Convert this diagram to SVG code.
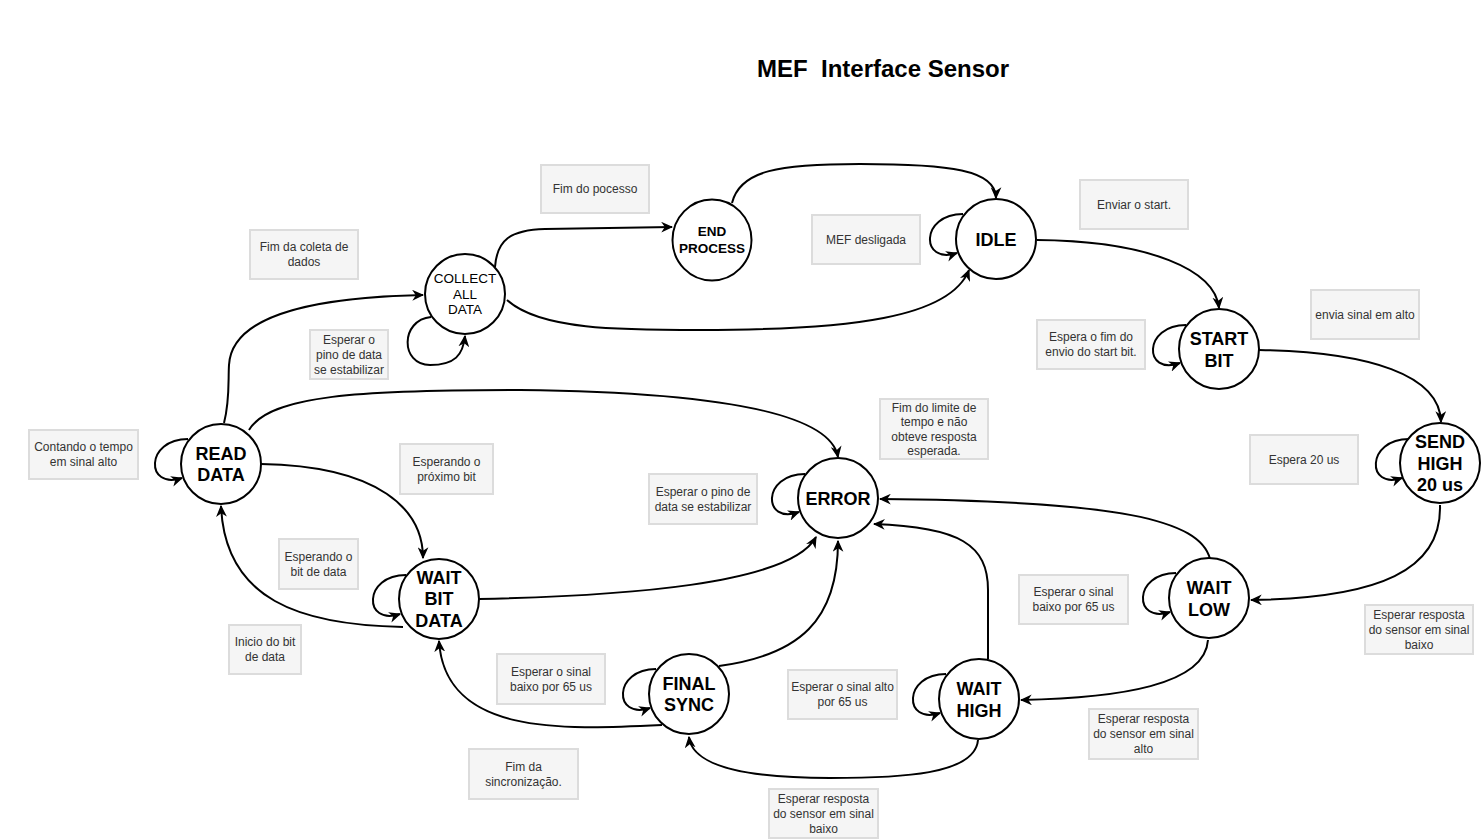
<svg xmlns="http://www.w3.org/2000/svg" width="1483" height="839" viewBox="0 0 1483 839">
<style>
.st{fill:#fff;stroke:#000;stroke-width:2}
.nl{font-family:"Liberation Sans",Arial,sans-serif;font-weight:bold;font-size:18px;fill:#000;text-anchor:middle}
.ns{font-family:"Liberation Sans",Arial,sans-serif;font-weight:bold;font-size:13.5px;fill:#000;text-anchor:middle}
.nr{font-family:"Liberation Sans",Arial,sans-serif;font-size:13.5px;fill:#000;text-anchor:middle}
.bx{fill:#f5f5f5;stroke:#dcdcdc;stroke-width:2}
.bt{font-family:"Liberation Sans",Arial,sans-serif;font-size:12px;fill:#333;text-anchor:middle}
.e{fill:none;stroke:#000;stroke-width:2;marker-end:url(#arr)}
.title{font-family:"Liberation Sans",Arial,sans-serif;font-weight:bold;font-size:24px;fill:#000}
</style>
<defs>
<marker id="arr" viewBox="0 0 10 9" refX="9" refY="4.5" markerWidth="12" markerHeight="11" orient="auto" markerUnits="userSpaceOnUse">
<path d="M0,0 L10,4.5 L0,9 L3,4.5 Z" fill="#000"/>
</marker>
</defs>
<rect width="1483" height="839" fill="#fff"/>
<text class="title" x="757" y="77" xml:space="preserve">MEF  Interface Sensor</text>

<g id="connectors">
<path class="e" d="M732,203 C740,170 780,164 860,164 C950,164 996,170 996,198"/>
<path class="e" d="M495,267 C497,240 510,230 545,229 L672,227"/>
<path class="e" d="M507,300 C540,330 620,330 700,330 C850,330 950,318 969,270"/>
<path class="e" d="M431,317 C400,320 400,365 430,365 C455,365 463,355 465,336"/>
<path class="e" d="M224,423 C230,400 228,380 229,365 C232,310 330,297 423,295"/>
<path class="e" d="M249,430 C270,395 360,390 520,390 C700,392 830,410 838,457"/>
<path class="e" d="M261,464 C380,466 423,510 423,558"/>
<path class="e" d="M403,627 C300,625 225,600 221,506"/>
<path class="e" d="M188,439 C145,439 145,490 182,478"/>
<path class="e" d="M406,575 C363,575 363,626 400,614"/>
<path class="e" d="M479,599 C620,596 790,585 816,537"/>
<path class="e" d="M662,725 C560,730 445,735 439,641"/>
<path class="e" d="M719,666 C800,655 838,620 838,541"/>
<path class="e" d="M656,669 C613,669 613,720 650,708"/>
<path class="e" d="M978,740 C975,775 900,778 830,778 C740,778 692,765 689,737"/>
<path class="e" d="M988,659 L988,590 C988,545 960,527 874,524"/>
<path class="e" d="M946,674 C903,674 903,725 940,713"/>
<path class="e" d="M1210,559 C1200,520 1120,501 880,499"/>
<path class="e" d="M1208,640 C1205,685 1120,698 1021,700"/>
<path class="e" d="M1176,573 C1133,573 1133,624 1170,612"/>
<path class="e" d="M1440,505 C1442,570 1380,598 1251,600"/>
<path class="e" d="M1409,439 C1366,439 1366,490 1402,478"/>
<path class="e" d="M1259,350 C1370,352 1440,375 1441,422"/>
<path class="e" d="M1186,325 C1143,325 1143,376 1180,363"/>
<path class="e" d="M1037,240 C1150,241 1215,270 1219,308"/>
<path class="e" d="M963,214 C920,214 920,265 957,253"/>
<path class="e" d="M805,474 C762,474 762,525 799,512"/>
</g>

<g id="node-idle"><circle class="st" cx="996" cy="239" r="40"/><text class="nl" x="996" y="245.5">IDLE</text></g>
<g id="node-end-process"><ellipse class="st" cx="712" cy="240" rx="39.5" ry="40.5"/><text class="ns" x="712" y="236">END</text><text class="ns" x="712" y="253">PROCESS</text></g>
<g id="node-collect"><circle class="st" cx="465" cy="294" r="40"/><text class="nr" x="465" y="283">COLLECT</text><text class="nr" x="465" y="299">ALL</text><text class="nr" x="465" y="314">DATA</text></g>
<g id="node-start-bit"><circle class="st" cx="1219" cy="349" r="40"/><text class="nl" x="1219" y="344.5">START</text><text class="nl" x="1219" y="366.5">BIT</text></g>
<g id="node-send-high"><circle class="st" cx="1440" cy="463" r="40"/><text class="nl" x="1440" y="448">SEND</text><text class="nl" x="1440" y="469.5">HIGH</text><text class="nl" x="1440" y="491">20 us</text></g>
<g id="node-read-data"><circle class="st" cx="221" cy="464" r="40"/><text class="nl" x="221" y="459.5">READ</text><text class="nl" x="221" y="480.5">DATA</text></g>
<g id="node-error"><circle class="st" cx="838" cy="498" r="40"/><text class="nl" x="838" y="504.5">ERROR</text></g>
<g id="node-wait-low"><circle class="st" cx="1209" cy="598" r="40"/><text class="nl" x="1209" y="593.5">WAIT</text><text class="nl" x="1209" y="615.5">LOW</text></g>
<g id="node-wait-bit-data"><circle class="st" cx="439" cy="599" r="40"/><text class="nl" x="439" y="583.5">WAIT</text><text class="nl" x="439" y="604.5">BIT</text><text class="nl" x="439" y="626.5">DATA</text></g>
<g id="node-final-sync"><circle class="st" cx="689" cy="694" r="40"/><text class="nl" x="689" y="689.5">FINAL</text><text class="nl" x="689" y="710.5">SYNC</text></g>
<g id="node-wait-high"><circle class="st" cx="979" cy="699" r="40"/><text class="nl" x="979" y="694.5">WAIT</text><text class="nl" x="979" y="716.5">HIGH</text></g>

<g id="labels">
<g id="lb1"><rect class="bx" x="541" y="165" width="108" height="48"/><text class="bt" x="595" y="193">Fim do pocesso</text></g>
<g id="lb2"><rect class="bx" x="812" y="215" width="108" height="49"/><text class="bt" x="866" y="243.5">MEF desligada</text></g>
<g id="lb3"><rect class="bx" x="1080" y="180" width="108" height="49"/><text class="bt" x="1134" y="208.5">Enviar o start.</text></g>
<g id="lb4"><rect class="bx" x="250" y="230" width="108" height="49"/><text class="bt" x="304" y="251">Fim da coleta de</text><text class="bt" x="304" y="266">dados</text></g>
<g id="lb5"><rect class="bx" x="310" y="330" width="78" height="49"/><text class="bt" x="349" y="343.5">Esperar o</text><text class="bt" x="349" y="358.5">pino de data</text><text class="bt" x="349" y="373.5">se estabilizar</text></g>
<g id="lb6"><rect class="bx" x="1037" y="320" width="108" height="49"/><text class="bt" x="1091" y="341">Espera o fim do</text><text class="bt" x="1091" y="356">envio do start bit.</text></g>
<g id="lb7"><rect class="bx" x="1311" y="290" width="108" height="49"/><text class="bt" x="1365" y="318.5">envia sinal em alto</text></g>
<g id="lb8"><rect class="bx" x="1250" y="435" width="108" height="49"/><text class="bt" x="1304" y="463.5">Espera 20 us</text></g>
<g id="lb9"><rect class="bx" x="1365" y="605" width="108" height="49"/><text class="bt" x="1419" y="618.5">Esperar resposta</text><text class="bt" x="1419" y="633.5">do sensor em sinal</text><text class="bt" x="1419" y="648.5">baixo</text></g>
<g id="lb10"><rect class="bx" x="29" y="430" width="109" height="49"/><text class="bt" x="83.5" y="451">Contando o tempo</text><text class="bt" x="83.5" y="466">em sinal alto</text></g>
<g id="lb11"><rect class="bx" x="400" y="444" width="93" height="50"/><text class="bt" x="446.5" y="465.5">Esperando o</text><text class="bt" x="446.5" y="480.5">próximo bit</text></g>
<g id="lb12"><rect class="bx" x="279" y="539" width="79" height="50"/><text class="bt" x="318.5" y="560.5">Esperando o</text><text class="bt" x="318.5" y="575.5">bit de data</text></g>
<g id="lb13"><rect class="bx" x="229" y="625" width="72" height="49"/><text class="bt" x="265" y="646">Inicio do bit</text><text class="bt" x="265" y="661">de data</text></g>
<g id="lb14"><rect class="bx" x="880" y="399" width="108" height="60"/><text class="bt" x="934" y="411.5">Fim do limite de</text><text class="bt" x="934" y="426">tempo e não</text><text class="bt" x="934" y="440.5">obteve resposta</text><text class="bt" x="934" y="455">esperada.</text></g>
<g id="lb15"><rect class="bx" x="649" y="474" width="108" height="50"/><text class="bt" x="703" y="495.5">Esperar o pino de</text><text class="bt" x="703" y="510.5">data se estabilizar</text></g>
<g id="lb16"><rect class="bx" x="497" y="654" width="108" height="50"/><text class="bt" x="551" y="675.5">Esperar o sinal</text><text class="bt" x="551" y="690.5">baixo por 65 us</text></g>
<g id="lb17"><rect class="bx" x="469" y="749" width="109" height="50"/><text class="bt" x="523.5" y="770.5">Fim da</text><text class="bt" x="523.5" y="785.5">sincronização.</text></g>
<g id="lb18"><rect class="bx" x="788" y="670" width="109" height="49"/><text class="bt" x="842.5" y="691">Esperar o sinal alto</text><text class="bt" x="842.5" y="706">por 65 us</text></g>
<g id="lb19"><rect class="bx" x="769" y="789" width="109" height="49"/><text class="bt" x="823.5" y="802.5">Esperar resposta</text><text class="bt" x="823.5" y="817.5">do sensor em sinal</text><text class="bt" x="823.5" y="832.5">baixo</text></g>
<g id="lb20"><rect class="bx" x="1019" y="575" width="109" height="49"/><text class="bt" x="1073.5" y="596">Esperar o sinal</text><text class="bt" x="1073.5" y="611">baixo por 65 us</text></g>
<g id="lb21"><rect class="bx" x="1089" y="709" width="109" height="50"/><text class="bt" x="1143.5" y="723">Esperar resposta</text><text class="bt" x="1143.5" y="738">do sensor em sinal</text><text class="bt" x="1143.5" y="753">alto</text></g>
</g>
</svg>
